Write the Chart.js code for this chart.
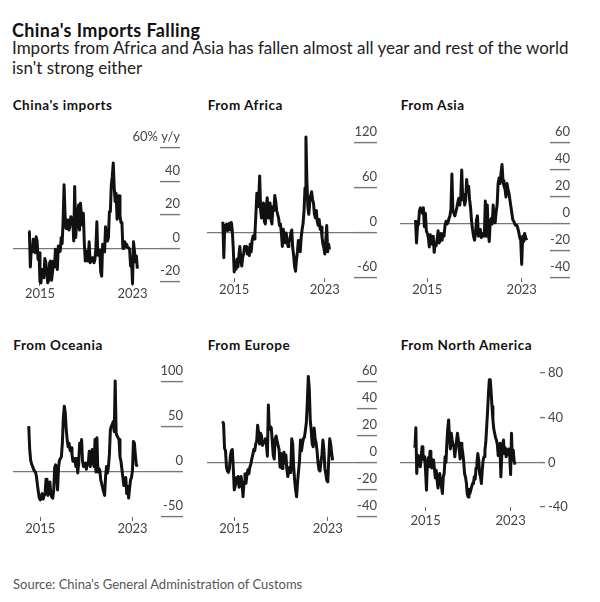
<!DOCTYPE html>
<html>
<head>
<meta charset="utf-8">
<script src="https://cdn.jsdelivr.net/npm/chart.js@4.4.1/dist/chart.umd.min.js"></script>
<style>
  body { margin: 0; background: #fff; }
  #page { position: relative; width: 600px; height: 602px; overflow: hidden; background: #fff; font-family: Lato, sans-serif; }
  .t { position: absolute; white-space: nowrap; }
  .title { left: 12px; top: 19px; font: 700 18px/22px Lato, sans-serif; letter-spacing: 0.4px; color: #111; }
  .sub { left: 12px; top: 38px; font: 400 17px/20px Lato, sans-serif; color: #222; }
  .ptitle { font: 700 13.5px/16px Lato, sans-serif; letter-spacing: 0.5px; color: #111; }
  .source { left: 13px; top: 576px; font: 400 13px/16px Lato, sans-serif; color: #555; }
</style>
</head>
<body>
<div id="page">
  <div class="t title">China's Imports Falling</div>
  <div class="t sub">Imports from Africa and Asia has fallen almost all year and rest of the world<br>isn't strong either</div>
  <div class="t source">Source: China's General Administration of Customs</div>
</div>
<script>
// monthly y/y change, Jan 2014 .. Jun 2023
const chinaImports = [
  10, 10, -11, 1, -2, 5.5, -1.5, -2.5, 7, 4.5, -6.5, -2.5,
  -20, -20.5, -12.5, -16, -17.5, -6, -8, -14, -20.5, -19, -8.5, -7.5,
  -19, -14, -7.5, -11, -0.5, -8.5, -12.5, 1.5, -2, -1.5, 6.5, 3,
  17, 38, 20, 12, 15, 17, 11, 13, 19, 17, 18, 4.5,
  37, 6.5, 14.5, 21.5, 26, 11, 27, 20, 14, 21, 3, -7.5,
  -1.5, -5, -7.5, 4, -8.5, -7.5, -5.5, -5.5, -8.5, -6.5, 0.5, 16,
  -4, -4, -1, -14, -16.5, 2.5, -1.5, -2, 13, 4.5, 4.5, 6.5,
  22, 22, 38, 43, 51, 36.5, 28, 33, 17.5, 20.5, 31.5, 19.5,
  15.5, 15.5, 0, 0, 4, 1, 2.5, 0.5, 0.5, -0.5, -10.5, -7.5,
  -21, 4, -1.5, -8, -4.5, -12
];
const fromAfrica = [
  15, -33, 10, 5, 12, 3, 9, 13, 4, 14, 3, -20,
  -52, -42, -48, -35, -45, -30, -18, -35, -44, -32, -28, -18,
  -22, -18, -28, -20, -30, -15, -25, -10, -4, -8, 0, 25,
  53, 35, 45, 76, 30, 20, 22, 40, 15, 12, 35, 47,
  20, 35, 40, 18, 12, 35, 30, 50, 42, 30, 25, 20,
  10, 12, 0, -18, 5, -5, -13, 0, -8, -18, -12, -10,
  0, 4, -20, -30, -45, -51, -35, -25, -10, -18, -25, -5,
  5, 13, 30, 60, 128, 70, 35, 25, 40, 50, 55, 45,
  40, 25, 20, 30, 15, 10, 18, 5, 8, -5, -15, -20,
  -28, -10, 10, -25, -15, -22
];
const fromAsia = [
  3, -14, -2, 0, 10, 12, 10, 8, 12, -2, 8, -5,
  -7, -10, -17, -8, -12, -15, -9, -21, -14, -16, -11, -5,
  -14, -12, -7, -12, -7, -9, -1, 2, 0, 1, 4, 6,
  11, 37, 10, 8, 6, 9, 12, 16, 19, 14, 20, 40,
  18, 22, 14, 18, 33, 24, 28, 18, 12, 2, -4, -9,
  -12, -7, 3, 6, -9, -5, -4, -10, -8, -7, -9, 17,
  -9, 14, -6, -13, 2, 4, 0, 14, 5, 1, 9, 14,
  30, 34, 30, 38, 44, 32, 28, 26, 20, 30, 26, 23,
  18, 13, 8, 3, 2, 0, -1, -1, -3, -6, -10, -12,
  -30, -9, -13, -7, -10, -12
];
const fromOceania = [
  51, 25, 13, 9, 6, 3, 1, 0, -5, -14, -22, -29,
  -31, -28, -24, -30, -26, -25, -8, -17, -26, -20, -11, -24,
  -28, -29, -20, 5, 8, -5, -20, 5, 13, 15, 17, 32,
  60, 73, 66, 48, 36, 28, 32, 24, 27, 20, 12, 12,
  15, 6, 15, -1, 10, 32, 22, 36, 12, 6, 8, 10,
  3, 10, 9, 23, 6, 17, 25, 10, 6, 36, 0, 38,
  0, 4, 2, -9, -13, -18, -22, -26, -5, 6, -1, 6,
  20, 47, 51, 53, 56, 45, 101, 43, 40, 38, 36, 17,
  12, 3, -6, -15, -12, -6, -24, -16, -29, -18, -9, -6,
  2, 34, 32, 19, 8, 6
];
const fromEurope = [
  31, 29, 11, 9, -3, -6, -7, -4, 5, 9, 10, -4,
  -20, -17, -11, -15, -10, -18, -14, -10, -16, -25, -14, -8,
  -15, -9, -5, -8, -3, -1, 3, 6, 10, 9, 14, 16,
  28, 22, 14, 22, 20, 13, 16, 15, 18, 14, 5, 43,
  25, 27, 26, 16, 6, 3, 18, 20, 16, 13, 10, -3,
  7, -4, 6, 8, 0, 6, -5, -10, -5, -3, -7, 18,
  14, -3, -13, -20, -25, -14, -6, 2, 17, 9, 14, 18,
  19, 24, 30, 45, 64, 55, 32, 24, 14, 12, 26, 18,
  15, 9, 0, -5, -6, 1, 6, 17, 10, -4, -8, -13,
  -14, 3, 18, 14, 7, 2
];
const fromNorthAmerica = [
  13, 31, -10, 4, 6, 0, -4, 4, 14, 8, 2, 5,
  -8, -25, -1, 4, -4, 10, 5, -5, 2, 2, -6, -14,
  -7, -16, -23, -15, -10, -18, -22, -28, -13, -10, 5, 0,
  17, 30, 38, 23, 12, 26, 20, 15, 14, 5, 13, 20,
  26, 20, 11, 3, 17, 14, 8, 1, -10, -13, -18, -28,
  -31, -24, -28, -25, -22, -19, -19, -13, -15, -5, 0, 8,
  2, -10, -13, -19, -7, 2, 5, 11, 18, 32, 46, 62,
  74, 74, 63, 50, 38, 30, 26, 22, 20, 16, 6, 13,
  17, -13, 5, 16, 20, 8, 13, 5, 11, 7, 12, 6,
  -11, 26, 2, 11, 1, -2
];

const xTickIndex = [12, 108];       // Jan 2015, Jan 2023
const xTickLabels = ['2015', '2023'];
const yTicksChina = [-20, 0, 20, 40, 60];
const yTicksAfrica = [-60, 0, 60, 120];
const yTicksAsia = [-40, -20, 0, 20, 40, 60];
const yTicksOceania = [-50, 0, 50, 100];
const yTicksEurope = [-40, -20, 0, 20, 40, 60];
const yTicksNorthAmerica = [-40, 0, 40, 80];

const panels = [
  { title: "China's imports", data: chinaImports, yTicks: yTicksChina, topLabel: '60% y/y',
    titlePos: [12.7, 97], box: { l: 13, r: 160, t: 148, b: 282 }, xr: [-16, 136.5], dash: 20 },
  { title: 'From Africa', data: fromAfrica, yTicks: yTicksAfrica,
    titlePos: [207.7, 97], box: { l: 207, r: 354, t: 143, b: 278 }, xr: [-16.8, 138.9], dash: 23 },
  { title: 'From Asia', data: fromAsia, yTicks: yTicksAsia,
    titlePos: [400.7, 97], box: { l: 400, r: 550, t: 143, b: 278 }, xr: [-15.8, 136.8], dash: 20 },
  { title: 'From Oceania', data: fromOceania, yTicks: yTicksOceania,
    titlePos: [13.3, 337], box: { l: 13, r: 161, t: 382, b: 517 }, xr: [-16.4, 137.7], dash: 22 },
  { title: 'From Europe', data: fromEurope, yTicks: yTicksEurope,
    titlePos: [207.7, 337], box: { l: 207, r: 357, t: 382, b: 517 }, xr: [-16, 138], dash: 20 },
  { title: 'From North America', data: fromNorthAmerica, yTicks: yTicksNorthAmerica, plain: true,
    titlePos: [400.7, 337], box: { l: 400, r: 540, t: 373, b: 507 }, xr: [-16.9, 141.2], dash: 5 }
];

const page = document.getElementById('page');
const tickFont = { family: 'Lato', size: 13 };

function yLabel(p, v) {
  if (p.topLabel && v === p.yTicks[p.yTicks.length - 1]) return p.topLabel;
  return String(v);
}

function buildPanel(p) {
  const t = document.createElement('div');
  t.className = 't ptitle';
  t.style.left = p.titlePos[0] + 'px';
  t.style.top = p.titlePos[1] + 'px';
  t.textContent = p.title;
  page.appendChild(t);

  // big enough to absorb the axis' own label padding, so the plot box stays put
  const padTop = 34, padRight = 4, xAxisH = 34;
  const axisW = p.plain ? 34 : p.dash;
  const w = (p.box.r - p.box.l) + axisW + padRight;
  const h = (p.box.b - p.box.t) + padTop + xAxisH;
  const cv = document.createElement('canvas');
  cv.width = w;
  cv.height = h;
  cv.style.cssText = `position:absolute;left:${p.box.l}px;top:${p.box.t - padTop}px;width:${w}px;height:${h}px`;
  page.appendChild(cv);

  // labels sit above the dash, right-aligned to its end (mirror avoids the axis clip)
  const yTickOpts = p.plain
    ? { font: tickFont, color: '#444', padding: 3, callback: (v) => yLabel(p, v) }
    : { font: tickFont, color: '#444', mirror: true, crossAlign: 'near', padding: p.dash, labelOffset: -11, callback: (v) => yLabel(p, v) };

  const chart = new Chart(cv, {
    type: 'line',
    data: {
      datasets: [{
        data: p.data.map((v, i) => ({ x: i, y: v })),
        borderColor: '#111',
        borderWidth: 3,
        borderJoinStyle: 'round',
        pointRadius: 0,
        tension: 0,
        clip: false
      }]
    },
    options: {
      responsive: false,
      animation: false,
      events: [],
      layout: { padding: { top: padTop, right: padRight, left: 0, bottom: 0 } },
      plugins: { legend: { display: false }, tooltip: { enabled: false } },
      scales: {
        x: {
          type: 'linear',
          min: p.xr[0],
          max: p.xr[1],
          afterBuildTicks: (s) => { s.ticks = xTickIndex.map((v) => ({ value: v })); },
          afterFit: (s) => { s.height = xAxisH; },
          border: { display: false },
          grid: { drawOnChartArea: false, tickLength: 4, tickColor: '#666', tickWidth: 1 },
          ticks: {
            font: tickFont, color: '#444', padding: p.plain ? 2 : 0, maxRotation: 0, autoSkip: false,
            callback: (v) => xTickLabels[xTickIndex.indexOf(v)] || ''
          }
        },
        y: {
          position: 'right',
          min: p.yTicks[0],
          max: p.yTicks[p.yTicks.length - 1],
          afterBuildTicks: (s) => { s.ticks = p.yTicks.map((v) => ({ value: v })); },
          afterFit: (s) => { s.width = axisW; },
          border: { display: false },
          grid: {
            color: (c) => (c.tick && c.tick.value === 0 ? '#777' : 'rgba(0,0,0,0)'),
            lineWidth: 1.2,
            tickColor: '#777',
            tickWidth: 1.4,
            tickLength: p.dash
          },
          ticks: yTickOpts
        }
      }
    }
  });

  if (!p.plain) {
    const ys = chart.scales.y;
    const al = ys._getYAxisLabelAlignment(p.dash);
    if (Math.abs(al.x - ys.right) > 1) {
      chart.options.scales.y.ticks.padding = -p.dash;
      chart.update();
    }
  }
}

panels.forEach(buildPanel);
</script>
</body>
</html>
